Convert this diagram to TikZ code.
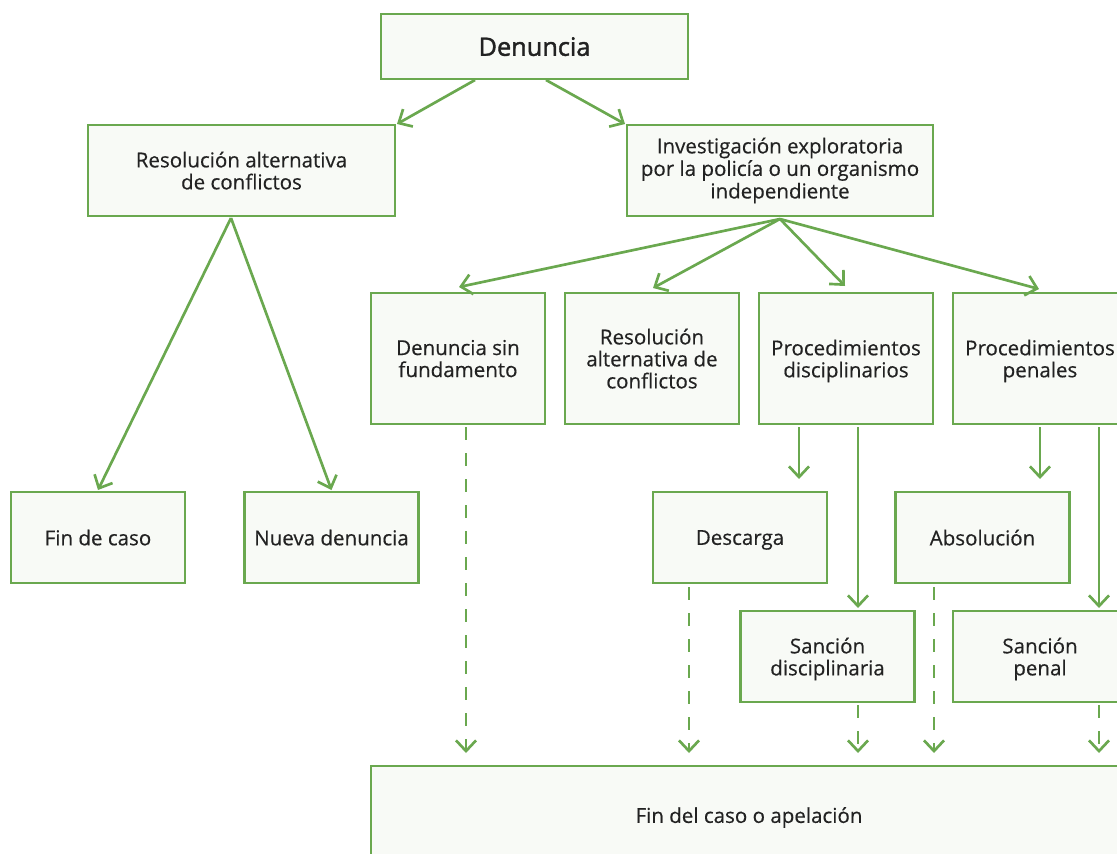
\documentclass[tikz,border=0pt]{standalone}
\usepackage{fontspec}
\setmainfont{Open Sans}[FakeBold=0.4]
\newfontfamily\denfont{Open Sans}[FakeBold=1.6]
\usetikzlibrary{arrows.meta,calc}

\definecolor{boxgreen}{RGB}{106,168,79}
\definecolor{boxfill}{RGB}{248,250,246}
\definecolor{boxtext}{RGB}{34,34,34}

\tikzset{
	box/.style={draw=boxgreen, fill=boxfill, line width=2.2pt, inner sep=0pt, outer sep=0pt,
		align=center, text=boxtext, text depth=0pt, font=\fontsize{15.4}{16.5}\selectfont},
	wide/.style={box, minimum width=230.25pt, minimum height=68.25pt},
	tall/.style={box, minimum width=130.5pt, minimum height=98.25pt},
	small/.style={box, minimum width=130.5pt, minimum height=68.25pt},
	arr/.style={draw=boxgreen, line width=2pt, -{Straight Barb[length=8pt,width=15pt,line width=2pt]}},
	dasharr/.style={arr, dash pattern=on 9.75pt off 9.75pt}
}

\begin{document}
\begin{tikzpicture}[x=0.75pt,y=0.75pt,yscale=-1,xscale=1]
	\useasboundingbox (0,0) rectangle (1117,853);

	% top row
	\node[box, minimum width=230.25pt, minimum height=48.75pt, font=\denfont\fontsize{19}{21}\selectfont] (den) at (534.5,46.5) {Denuncia};
	\node[wide] (resA) at (241.5,170.5) {Resolución alternativa\\de conflictos};
	\node[wide, minimum width=229.5pt, text depth=3.7pt, font=\fontsize{15.4}{16.9}\selectfont] (inv) at (780,170.5) {Investigación exploratoria\\por la policía o un organismo\\independiente};

	% second row
	\node[tall] (dsf) at (458,358.5) {Denuncia sin\\fundamento};
	\node[tall] (resB) at (652,358.5) {Resolución\\alternativa de\\conflictos};
	\node[tall] (pdis) at (846,358.5) {Procedimientos\\disciplinarios};
	\node[tall] (ppen) at (1040,358.5) {Procedimientos\\penales};

	% third row
	\node[small] (fin) at (98,537.5) {Fin de caso};
	\node[small] (nueva) at (331.5,537.5) {Nueva denuncia};
	\node[small] (desc) at (740,537.5) {Descarga};
	\node[small] (absol) at (982.5,537.5) {Absolución};

	% sanctions
	\node[small] (sdis) at (827.5,656.5) {Sanción\\disciplinaria};
	\node[small] (spen) at (1040,656.5) {Sanción\\penal};

	% end
	\node[box, minimum width=567pt, minimum height=73.5pt] (final) at (749,815) {Fin del caso o apelación};

	% start points of the vertical connectors
	\coordinate (dsfOut) at ($(dsf.south)+(8,3)$);
	\coordinate (pdisA) at ($(pdis.south)+(-47,3)$);
	\coordinate (pdisB) at ($(pdis.south)+(12,3)$);
	\coordinate (ppenA) at ($(ppen.south)+(0,3)$);
	\coordinate (ppenB) at ($(ppen.south)+(59,3)$);
	\coordinate (descOut) at ($(desc.south)+(-51,4)$);
	\coordinate (sdisOut) at ($(sdis.south)+(30.5,3)$);
	\coordinate (absolOut) at ($(absol.south)+(-48.5,4)$);
	\coordinate (spenOut) at ($(spen.south)+(59,3)$);

	% arrows from Denuncia
	\draw[arr] ($(den.south)+(-59.5,1)$) -- ($(resA.north east)+(2,-1)$);
	\draw[arr] ($(den.south)+(11.5,1)$) -- ($(inv.north west)+(-2,-1)$);

	% arrows from resolucion
	\draw[arr] ($(resA.south)+(-10.5,2)$) -- ($(fin.north)+(0,-2)$);
	\draw[arr] ($(resA.south)+(-10.5,2)$) -- ($(nueva.north)+(0,-2)$);

	% arrows from investigacion
	\draw[arr] ($(inv.south)+(0,3)$) -- ($(dsf.north)+(1,-6)$);
	\draw[arr] ($(inv.south)+(0,3)$) -- ($(resB.north)+(1,-5)$);
	\draw[arr] ($(inv.south)+(0,3)$) -- ($(pdis.north)+(-1,-7)$);
	\draw[arr] ($(inv.south)+(0,3)$) -- ($(ppen.north)+(-1,-4)$);

	% procedimientos
	\draw[arr, shorten >=9.75pt] (pdisA) -- (pdisA |- desc.north);
	\draw[arr, shorten >=2.25pt] (pdisB) -- (pdisB |- sdis.north);
	\draw[arr, shorten >=9.75pt] (ppenA) -- (ppenA |- absol.north);
	\draw[arr, shorten >=2.25pt] (ppenB) -- (ppenB |- spen.north);

	% dashed to the end
	\draw[dasharr, shorten >=9.75pt] (dsfOut) -- (dsfOut |- final.north);
	\draw[dasharr, shorten >=9.75pt] (descOut) -- (descOut |- final.north);
	\draw[dasharr, shorten >=9.75pt] (sdisOut) -- (sdisOut |- final.north);
	\draw[dasharr, shorten >=9.75pt] (absolOut) -- (absolOut |- final.north);
	\draw[dasharr, shorten >=9.75pt] (spenOut) -- (spenOut |- final.north);

\end{tikzpicture}
\end{document}
